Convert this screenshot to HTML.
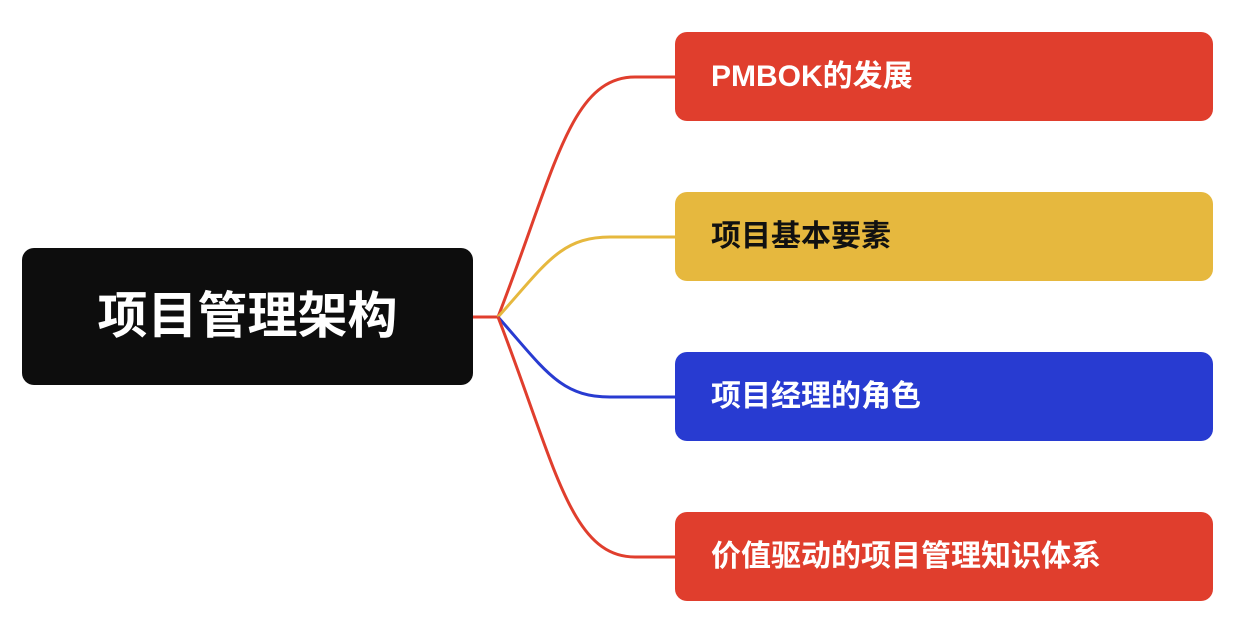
<!DOCTYPE html>
<html><head><meta charset="utf-8"><style>
body{margin:0;width:1242px;height:626px;background:#fff;position:relative;overflow:hidden;font-family:"Liberation Sans","Noto Sans CJK SC",sans-serif}
.n{position:absolute;left:675px;width:538px;height:89px;border-radius:12px;color:#fff;font-size:30px;font-weight:bold;line-height:89px;padding-left:36px;box-sizing:border-box}
</style></head><body>
<svg width="1242" height="626" style="position:absolute;left:0;top:0" fill="none" stroke-width="3">
<path d="M470 317 L498 317" stroke="#e03e2d"/>
<path d="M498 317 C555 170 570 77 635 77 L676 77" stroke="#e03e2d"/>
<path d="M498 317 C545 265 560 237 610 237 L676 237" stroke="#e6b83e"/>
<path d="M498 317 C545 370 560 397 610 397 L676 397" stroke="#283bd1"/>
<path d="M498 317 C555 464 570 557 635 557 L676 557" stroke="#e03e2d"/>
</svg>
<div style="position:absolute;left:22px;top:248px;width:451px;height:137px;background:#0d0d0d;border-radius:12px;color:#fff;font-size:50px;font-weight:bold;text-align:center;line-height:137px">项目管理架构</div>
<div class="n" style="top:32px;background:#e03e2d">PMBOK的发展</div>
<div class="n" style="top:192px;background:#e6b83e;color:#111">项目基本要素</div>
<div class="n" style="top:352px;background:#283bd1">项目经理的角色</div>
<div class="n" style="top:512px;background:#e03e2d">价值驱动的项目管理知识体系</div>
</body></html>
